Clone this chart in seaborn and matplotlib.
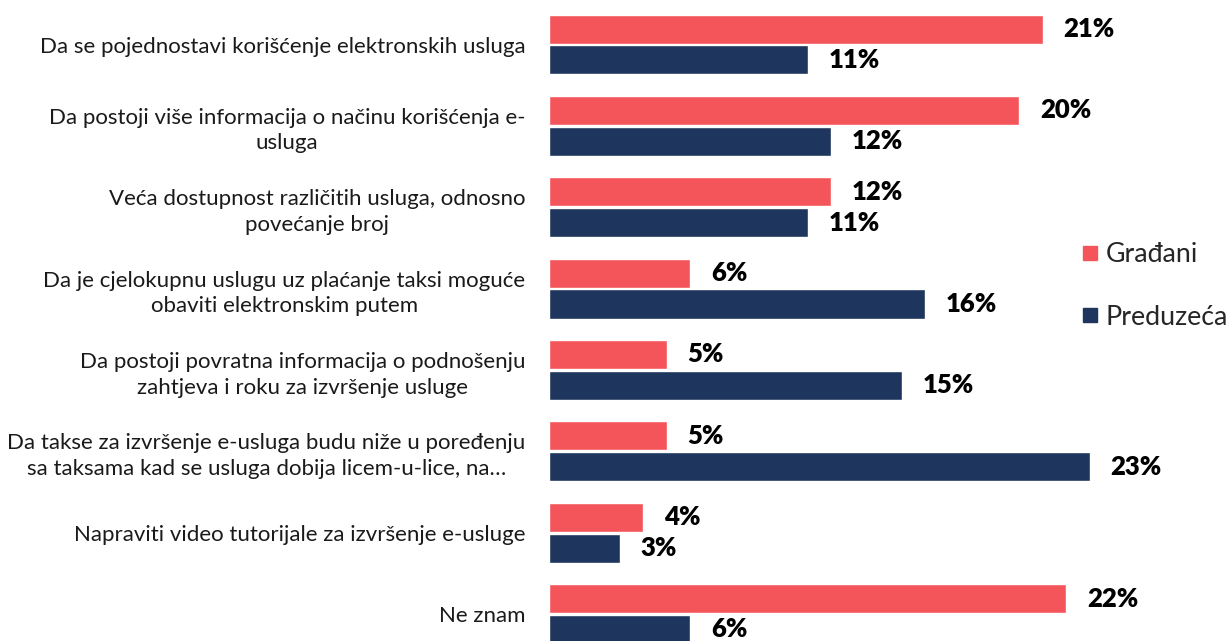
import matplotlib
matplotlib.use("Agg")
import matplotlib.pyplot as plt
from matplotlib.lines import Line2D
import pandas as pd
import seaborn as sns

categories = [
    "Da se pojednostavi korišćenje elektronskih usluga",
    "Da postoji više informacija o načinu korišćenja e-\nusluga",
    "Veća dostupnost različitih usluga, odnosno\npovećanje broj",
    "Da je cjelokupnu uslugu uz plaćanje taksi moguće\nobaviti elektronskim putem",
    "Da postoji povratna informacija o podnošenju\nzahtjeva i roku za izvršenje usluge",
    "Da takse za izvršenje e-usluga budu niže u poređenju\nsa taksama kad se usluga dobija licem-u-lice, na…",
    "Napraviti video tutorijale za izvršenje e-usluge",
    "Ne znam",
]
gradjani = [21, 20, 12, 6, 5, 5, 4, 22]
preduzeca = [11, 12, 11, 16, 15, 23, 3, 6]
series = ["Građani", "Preduzeća"]
colors = ["#F4555A", "#1E365D"]

df = pd.DataFrame({
    "kategorija": categories * 2,
    "vrijednost": gradjani + preduzeca,
    "grupa": [series[0]] * len(categories) + [series[1]] * len(categories),
})

sns.set_theme(style="white")
plt.rcParams["font.family"] = ["Lato", "DejaVu Sans"]

fig = plt.figure(figsize=(12.29, 6.41), dpi=100)
ax = fig.add_axes([549 / 1229, 0.0, 1 - 549 / 1229, 1.0])

sns.barplot(
    data=df, y="kategorija", x="vrijednost", hue="grupa",
    order=categories, hue_order=series, palette=colors,
    orient="h", width=0.76, gap=0.06, saturation=1.0,
    legend=False, ax=ax,
)

for cont in ax.containers:
    ax.bar_label(cont, labels=[f"{v:.0f}%" for v in cont.datavalues],
                 padding=15, fontsize=18.5, fontweight="heavy", color="black")

ax.set_xlim(0, 680 / 23.5)
ax.set_ylim(7.332, -0.547)
ax.set_xlabel("")
ax.set_ylabel("")
ax.set_xticks([])
for s in ax.spines.values():
    s.set_visible(False)
ax.tick_params(axis="y", length=0, pad=17)
for t in ax.get_yticklabels():
    t.set_fontsize(16)
    t.set_color("#1a1a1a")
    t.set_multialignment("center")
    t.set_linespacing(1.35)

handles = [Line2D([0], [0], marker="s", linestyle="none", markersize=10,
                  markerfacecolor=c, markeredgecolor=c) for c in colors]
fig.legend(handles, series, loc="center left",
           bbox_to_anchor=(1079 / 1229, 1 - 286 / 641), frameon=False,
           fontsize=19.3, labelspacing=1.4, handletextpad=0.2,
           handlelength=0.8, borderpad=0, borderaxespad=0)

fig.savefig("out.png", dpi=100)
